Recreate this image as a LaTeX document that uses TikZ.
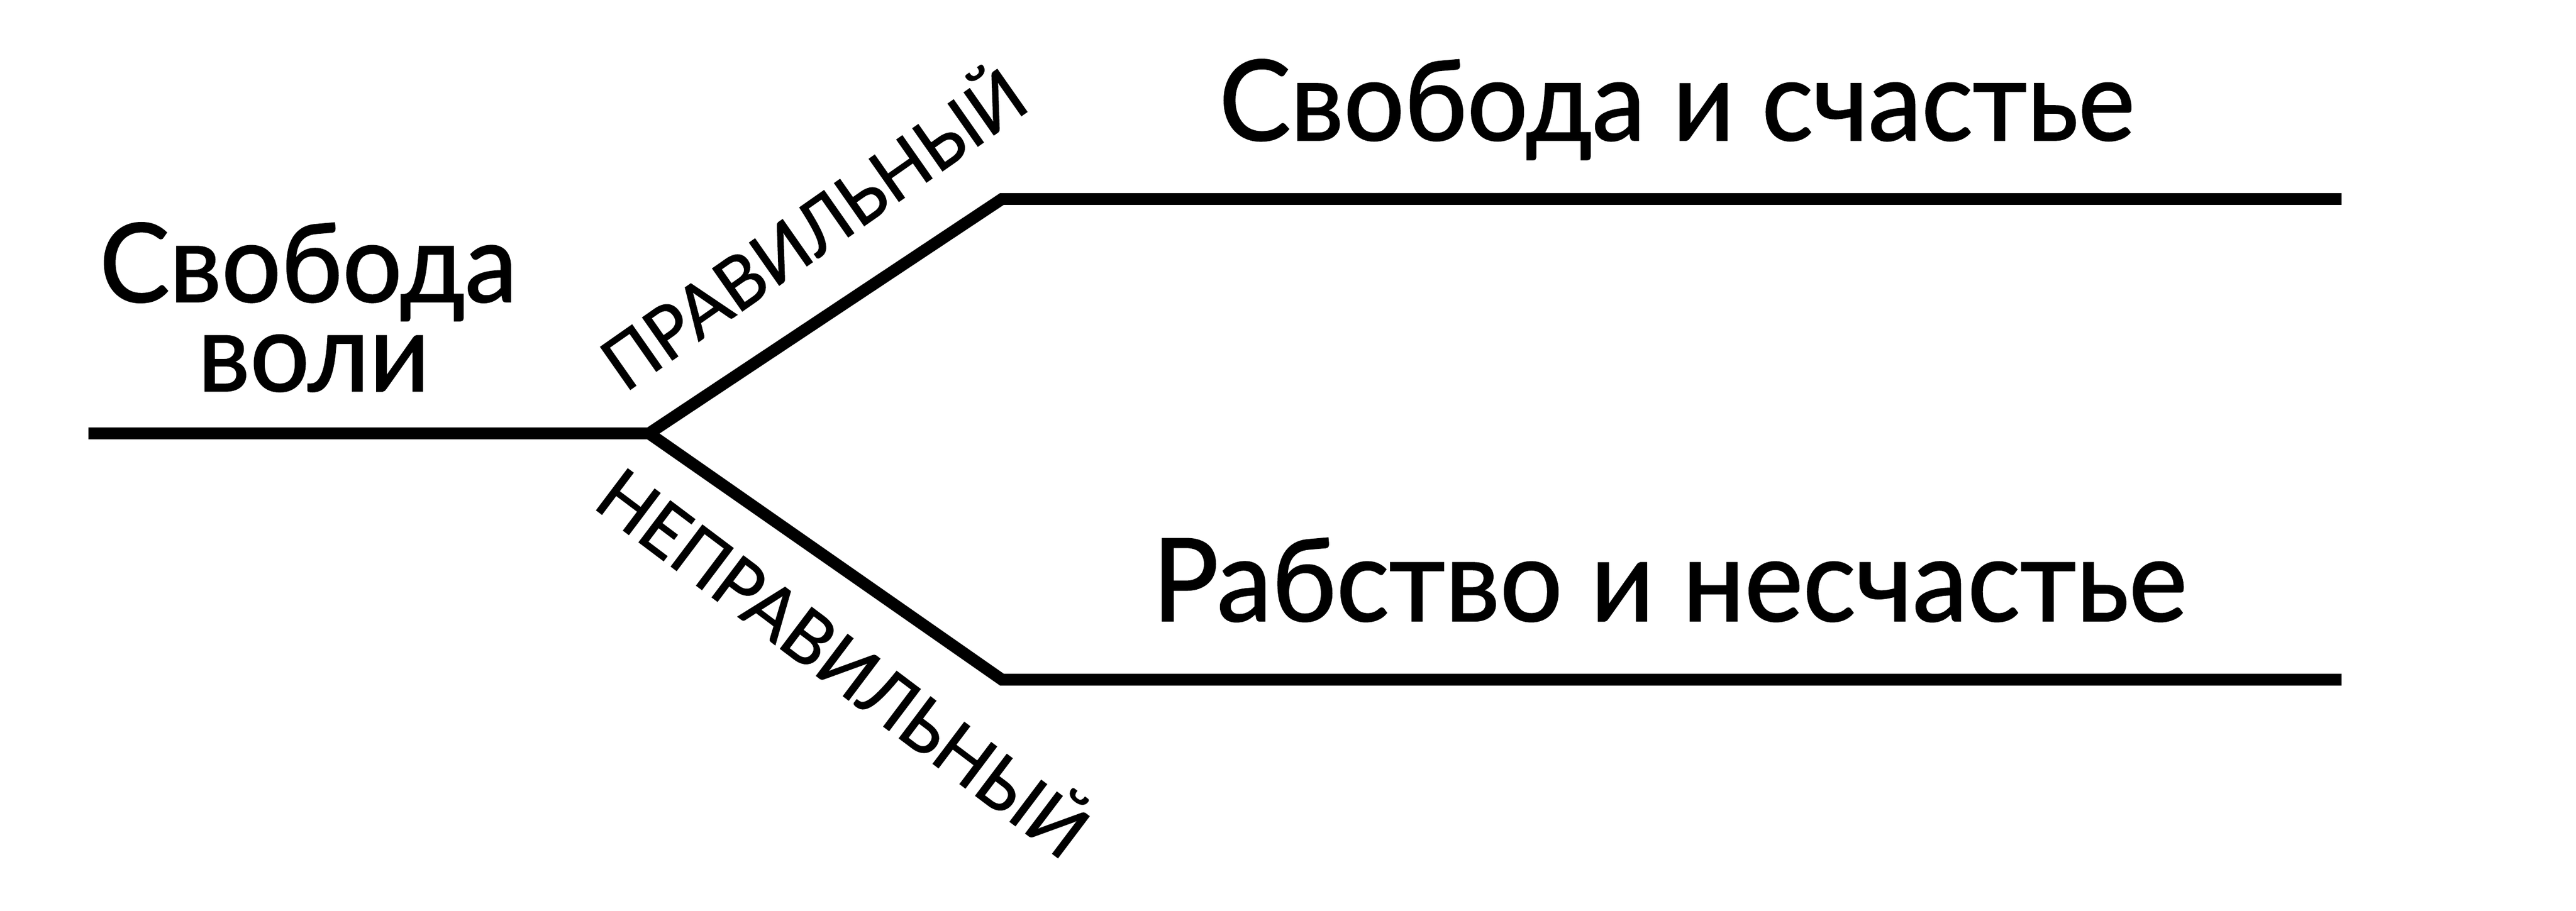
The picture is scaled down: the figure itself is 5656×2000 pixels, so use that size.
\documentclass[tikz,border=0pt]{standalone}
\usepackage{fontspec}
\setmainfont{Lato}[FakeBold=1.2,FakeStretch=0.96]
\begin{document}
\begin{tikzpicture}[x=0.01cm,y=-0.01cm,
  branch/.style={line width=7.4pt,line join=miter,line cap=butt,black},
  bigtext/.style={inner sep=0pt,anchor=base,font=\fontsize{69.7}{80}\selectfont},
  roottext/.style={inner sep=0pt,anchor=base,font=\fontsize{68.3}{78}\selectfont},
  pathtext/.style={inner sep=0pt,anchor=base west,font=\fontsize{45.3}{52}\selectfont}]
\fill[white] (0,0) rectangle (5656,2000);
\useasboundingbox (0,0) rectangle (5656,2000);
\coordinate (s) at (194,952);
\coordinate (j) at (1425,952);
\coordinate (u1) at (2200,437);
\coordinate (u2) at (5141,437);
\coordinate (l1) at (2200,1493);
\coordinate (l2) at (5141,1493);
\draw[branch] (s) -- (j) -- (u1) -- (u2);
\draw[branch] (j) -- (l1) -- (l2);
\node[roottext] (svob) at (677,663) {Свобода};
\node[roottext] (voli) at (689,859) {воли};
\node[bigtext] (good) at (3682,308) {Свобода и счастье};
\node[bigtext,font=\fontsize{71.8}{82}\selectfont] (bad) at (3666,1364) {Рабство и несчастье};
\node[pathtext,rotate=35] (right) at (1372,864) {ПРАВИЛЬНЫЙ};
\node[pathtext,rotate=-37] (wrong) at (1298,1112) {НЕПРАВИЛЬНЫЙ};
\end{tikzpicture}
\end{document}
